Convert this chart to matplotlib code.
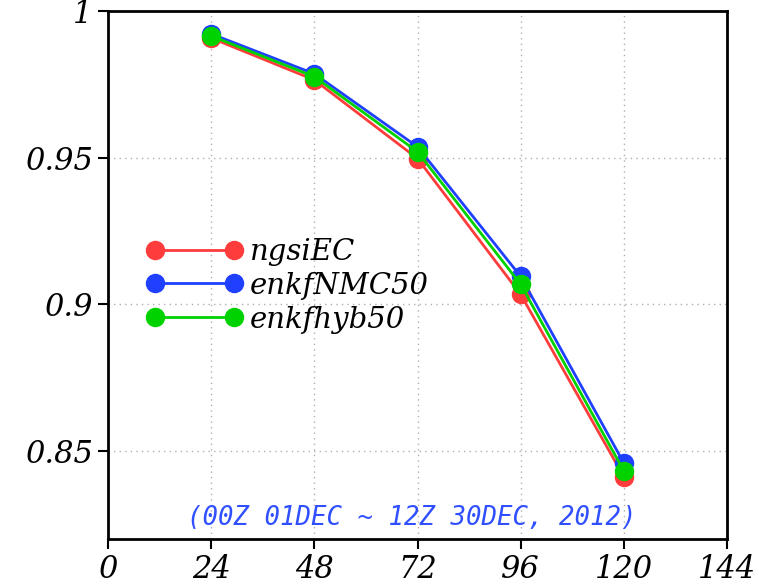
import matplotlib
matplotlib.use("Agg")
import matplotlib.pyplot as plt

hours = [24, 48, 72, 96, 120]
ngsiEC = [0.9908, 0.9765, 0.9497, 0.9034, 0.8412]
enkfNMC50 = [0.9922, 0.9786, 0.9537, 0.9095, 0.8459]
enkfhyb50 = [0.9915, 0.9776, 0.9520, 0.9068, 0.8432]
series_names = ["ngsiEC", "enkfNMC50", "enkfhyb50"]
colors = ["#ff3c3c", "#2040ff", "#00d200"]
xticks = [0, 24, 48, 72, 96, 120, 144]
yticks = [0.85, 0.9, 0.95, 1.0]
ytick_labels = ["0.85", "0.9", "0.95", "1"]
subtitle = "(00Z 01DEC ~ 12Z 30DEC, 2012)"

fig = plt.figure(figsize=(7.59, 5.84), dpi=100)
ax = fig.add_axes([108/759, 45/584, (727-108)/759, (539-11)/584])

for name, vals, c in zip(series_names, [ngsiEC, enkfNMC50, enkfhyb50], colors):
    ax.plot(hours, vals, color=c, lw=2, marker='o', markersize=13,
            markeredgecolor=c, label=name)

ax.set_xlim(0, 144)
ax.set_ylim(0.82, 1.0)
ax.set_xticks(xticks)
ax.set_xticklabels([str(t) for t in xticks])
ax.set_yticks(yticks)
ax.set_yticklabels(ytick_labels)
ax.grid(True, color="#b0b0b0", linestyle=(0, (1, 3)), lw=1)
ax.tick_params(direction='out', length=7, width=1.5, labelsize=22, pad=4)
for lab in ax.get_xticklabels() + ax.get_yticklabels():
    lab.set_fontfamily("DejaVu Serif")
    lab.set_fontstyle("italic")
for s in ax.spines.values():
    s.set_linewidth(2)
    s.set_color("black")

leg = ax.legend(loc="upper left", bbox_to_anchor=(0.038, 0.598), frameon=False,
                numpoints=2, handlelength=3.3, handletextpad=0.25,
                labelspacing=0.2, borderpad=0,
                prop={"family": "DejaVu Serif", "style": "italic", "size": 21})

ax.text(0.49, 0.04, subtitle, transform=ax.transAxes, ha="center", va="center",
        color="#3050ff", fontsize=18.5, fontfamily="DejaVu Sans Mono", fontstyle="italic")

fig.savefig("out.png", dpi=100)
